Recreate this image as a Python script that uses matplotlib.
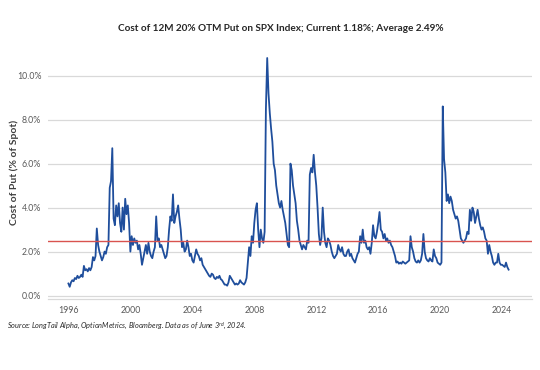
import matplotlib
matplotlib.use("Agg")
import matplotlib.pyplot as plt
import numpy as np

# monthly readings, Jan 1996 .. Jun 2024 (% of spot)
put_cost = [
    0.55, 0.40, 0.60, 0.70, 0.65, 0.80, 0.75, 0.90, 0.80, 0.85, 0.95, 0.85,  # 1996
    1.35, 1.15, 1.20, 1.10, 1.25, 1.15, 1.30, 1.75, 1.60, 1.80, 3.05, 2.30,  # 1997
    2.00, 1.80, 1.60, 1.75, 2.00, 1.90, 2.20, 2.30, 4.90, 5.20, 6.70, 3.50,  # 1998
    3.20, 4.10, 3.60, 4.20, 3.30, 2.90, 4.00, 3.00, 4.40, 3.70, 4.10, 3.30,  # 1999
    2.00, 2.70, 2.30, 2.60, 2.40, 2.50, 2.10, 2.30, 1.90, 1.40, 1.70, 2.00,  # 2000
    2.30, 1.90, 2.40, 2.00, 1.80, 1.70, 2.00, 2.20, 3.60, 2.50, 2.60, 2.20,  # 2001
    2.30, 2.10, 1.90, 1.70, 1.80, 2.20, 3.00, 3.60, 3.40, 4.60, 3.30, 3.60,  # 2002
    3.80, 4.10, 3.50, 3.00, 2.20, 2.40, 2.00, 2.10, 2.50, 2.20, 1.80, 1.90,  # 2003
    1.60, 1.50, 1.80, 2.10, 1.90, 1.80, 1.60, 1.70, 1.40, 1.30, 1.20, 1.10,  # 2004
    1.00, 0.90, 0.85, 1.00, 0.95, 0.80, 0.75, 0.85, 0.80, 0.90, 0.75, 0.70,  # 2005
    0.60, 0.50, 0.50, 0.45, 0.60, 0.90, 0.80, 0.70, 0.60, 0.50, 0.55, 0.50,  # 2006
    0.55, 0.70, 0.60, 0.55, 0.50, 0.60, 0.80, 1.50, 2.20, 1.80, 2.70, 2.40,  # 2007
    3.30, 3.90, 4.20, 3.00, 2.20, 3.00, 2.60, 2.40, 2.90, 8.50, 10.80, 9.20,  # 2008
    8.30, 7.60, 7.00, 6.00, 5.70, 5.00, 4.60, 4.20, 4.00, 4.30, 3.90, 3.60,  # 2009
    3.30, 2.80, 2.30, 2.20, 6.00, 5.70, 5.00, 4.60, 4.20, 3.40, 3.00, 2.50,  # 2010
    2.30, 2.10, 2.30, 2.20, 2.10, 2.50, 2.40, 5.50, 5.80, 5.60, 6.40, 5.60,  # 2011
    5.00, 4.00, 2.80, 2.30, 2.60, 4.00, 2.90, 2.40, 2.20, 2.60, 2.50, 2.30,  # 2012
    2.00, 1.80, 1.70, 1.80, 1.90, 2.30, 2.10, 2.00, 2.20, 1.90, 1.80, 1.80,  # 2013
    2.00, 2.10, 1.80, 1.90, 1.70, 1.60, 1.50, 1.70, 1.90, 2.00, 2.70, 2.40,  # 2014
    3.00, 2.40, 2.50, 2.20, 2.10, 2.20, 1.90, 2.40, 3.20, 2.70, 2.60, 2.90,  # 2015
    3.30, 3.80, 3.00, 2.90, 2.60, 2.80, 2.50, 2.60, 2.40, 2.50, 2.30, 2.20,  # 2016
    2.00, 1.80, 1.50, 1.55, 1.45, 1.50, 1.45, 1.55, 1.50, 1.45, 1.50, 1.55,  # 2017
    1.60, 2.70, 2.20, 2.00, 1.70, 1.55, 1.50, 1.60, 1.50, 1.60, 1.90, 2.80,  # 2018
    2.00, 1.70, 1.60, 1.55, 1.70, 1.60, 1.55, 2.10, 1.80, 1.70, 1.50, 1.45,  # 2019
    1.40, 1.50, 8.60, 6.20, 5.60, 4.30, 4.60, 4.20, 4.50, 4.30, 3.90, 3.70,  # 2020
    3.50, 3.60, 3.40, 3.00, 2.60, 2.50, 2.40, 2.50, 2.60, 2.90, 2.80, 3.90,  # 2021
    3.40, 4.00, 3.80, 3.30, 3.60, 3.90, 3.50, 3.20, 3.00, 3.10, 2.90, 2.60,  # 2022
    2.50, 1.90, 2.30, 2.00, 1.80, 1.50, 1.40, 1.50, 1.50, 1.90, 1.50, 1.40,  # 2023
    1.40, 1.35, 1.30, 1.50, 1.30, 1.18,                                      # 2024
]
start_year = 1996
average = 2.49
year_ticks = [1996, 2000, 2004, 2008, 2012, 2016, 2020, 2024]
pct_ticks = [0, 2, 4, 6, 8, 10]

title = "Cost of 12M 20% OTM Put on SPX Index; Current 1.18%; Average 2.49%"
ylabel = "Cost of Put (% of Spot)"
source = "Source: LongTail Alpha, OptionMetrics, Bloomberg. Data as of June 3$^{rd}$, 2024."

plt.rcParams["font.family"] = ["Lato", "DejaVu Sans"]
plt.rcParams["mathtext.fontset"] = "custom"
plt.rcParams["mathtext.rm"] = "Lato:italic"
plt.rcParams["mathtext.it"] = "Lato:italic"

years = start_year + np.arange(len(put_cost)) / 12.0

fig = plt.figure(figsize=(5.4, 3.7), dpi=100)
ax = fig.add_axes([0.0894, 0.191, 0.895, 0.676])

for v in pct_ticks:
    ax.axhline(v, color="#D9D9D9", lw=0.9, zorder=0)
ax.plot(years, put_cost, color="#1F4E9C", lw=1.3, zorder=2)
ax.axhline(average, color="#D9534F", lw=1.0, zorder=3)

ax.set_xlim(1994.7, 2025.9)
ax.set_ylim(-0.17, 11.2)
ax.set_xticks(year_ticks)
ax.set_xticklabels([str(y) for y in year_ticks])
ax.set_yticks(pct_ticks)
ax.set_yticklabels([f"{v:.1f}%" for v in pct_ticks])
ax.tick_params(length=0, labelsize=6.3, colors="#595959", pad=5)
for side in ["top", "right", "left"]:
    ax.spines[side].set_visible(False)
ax.spines["bottom"].set_color("#D9D9D9")
ax.spines["bottom"].set_linewidth(0.9)

fig.text(0.027, 0.535, ylabel, rotation=90, ha="center", va="center",
         fontsize=7.5, fontweight="bold", color="#404040")
fig.text(0.52, 0.924, title, ha="center", va="center", fontsize=7.2,
         fontweight="bold", color="#262626")
fig.text(0.013, 0.118, source, ha="left", va="center", fontsize=5.3,
         style="italic", color="#262626")

fig.savefig("out.png", dpi=100, facecolor="white")
